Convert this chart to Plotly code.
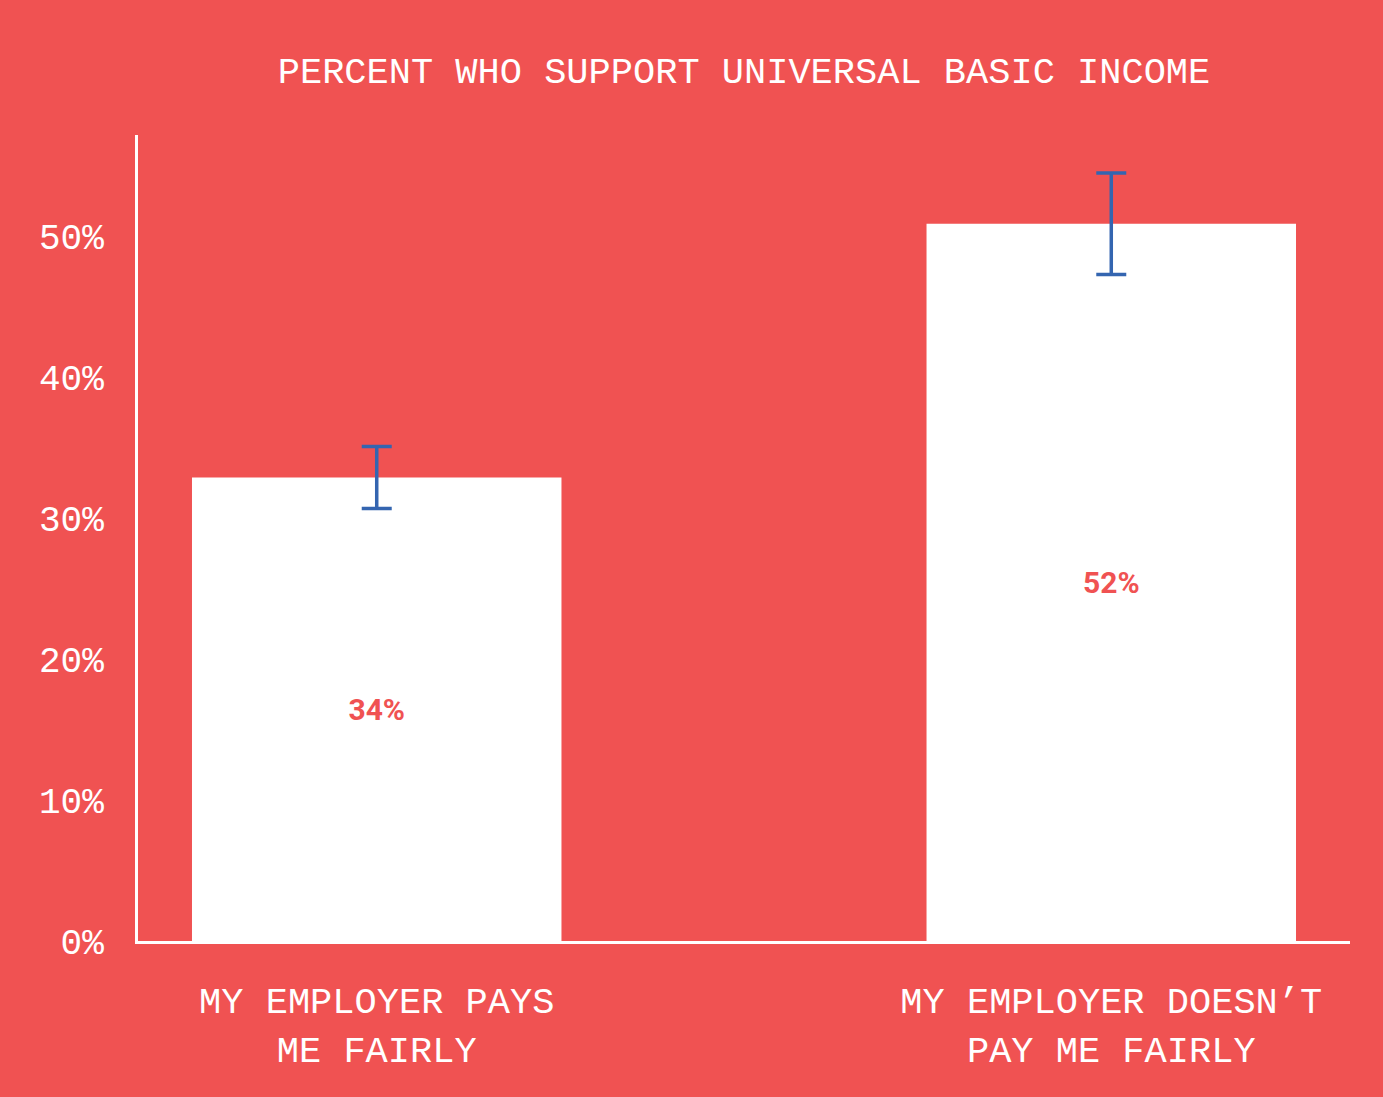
import plotly.graph_objects as go

# data
categories = ["MY EMPLOYER PAYS<br>ME FAIRLY", "MY EMPLOYER DOESN’T<br>PAY ME FAIRLY"]
support_pct = [32.9, 50.9]
error_pct = [2.2, 3.6]
bar_labels = ["34%", "52%"]
y_ticks = [0, 10, 20, 30, 40, 50]
y_tick_text = ["0%", "10%", "20%", "30%", "40%", "50%"]

BG = "#F05252"
BLUE = "#3465B0"
MONO = "Liberation Mono"

fig = go.Figure()
fig.add_trace(go.Bar(
    x=[0, 1],
    y=support_pct,
    width=0.503,
    marker_color="white",
    marker_line_width=0,
    text=bar_labels,
    textposition="inside",
    insidetextanchor="middle",
    textfont=dict(family="Roboto", size=30, color=BG, weight="bold"),
    error_y=dict(type="data", array=error_pct, color=BLUE, thickness=3.5, width=15),
    hoverinfo="skip",
))

fig.update_layout(
    width=1383, height=1097,
    paper_bgcolor=BG, plot_bgcolor=BG,
    margin=dict(l=138, r=33, t=135, b=156),
    showlegend=False,
    title=dict(text="PERCENT WHO SUPPORT UNIVERSAL BASIC INCOME",
               font=dict(family=MONO, size=37, color="white"),
               x=0.5, xref="paper", xanchor="center", y=1 - 70 / 1097, yanchor="middle"),
)
fig.update_xaxes(
    range=[-0.325, 1.325],
    tickvals=[0, 1], ticktext=categories,
    tickfont=dict(family=MONO, size=37, color="white"),
    showgrid=False, zeroline=False,
    showline=True, linecolor="white", linewidth=3,
    ticks="", ticklabelstandoff=25,
)
fig.update_yaxes(
    range=[0, 57.2],
    tickvals=y_ticks, ticktext=y_tick_text,
    tickfont=dict(family=MONO, size=36, color="white"),
    showgrid=False, zeroline=False,
    showline=True, linecolor="white", linewidth=3,
    ticks="", ticklabelstandoff=24,
)

# no white page border round the figure, no modebar
fig.write_html("out.html", config={"displayModeBar": False},
               post_script="document.body.style.margin='0';")
